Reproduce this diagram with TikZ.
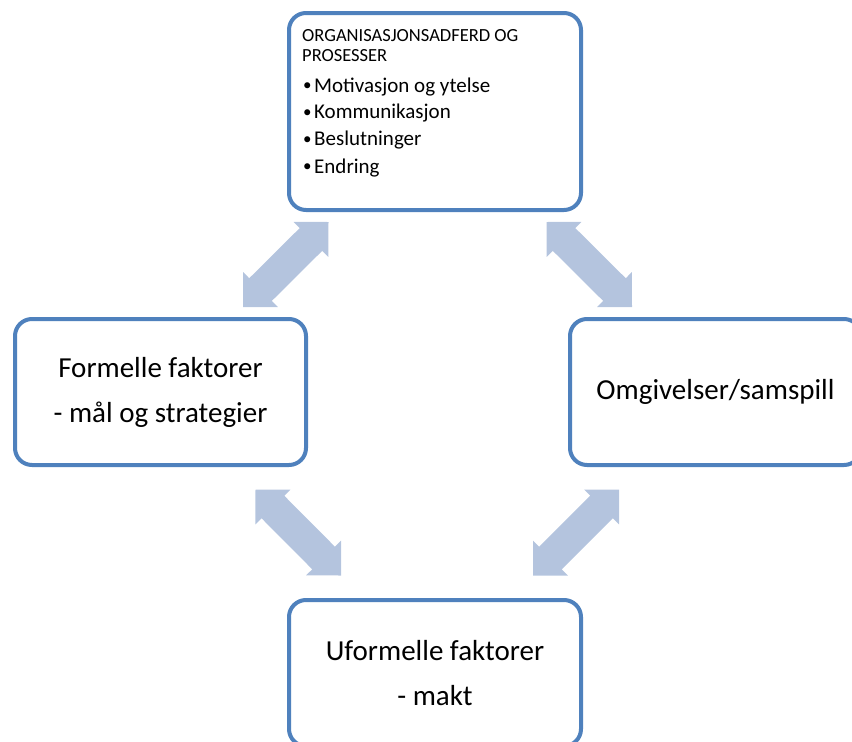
\documentclass[tikz,border=0pt]{standalone}
\usepackage{fontspec}
\setmainfont{Carlito}
\usetikzlibrary{calc}

\definecolor{boxblue}{RGB}{79,129,189}
\definecolor{arrowblue}{RGB}{180,196,222}

\newcommand{\itembullet}{\makebox[11pt][l]{\raisebox{1.4pt}{\fontsize{17}{17}\selectfont •}}}

% Fat double arrow from one named point to another
\newcommand{\fatarrow}[2]{%
	\fill [arrowblue] (#1) -- ($(#1)!34.93pt!45:(#2)$) -- ($(#1)!29.43pt!32.93:(#2)$) -- ($(#2)!29.43pt!-32.93:(#1)$) -- ($(#2)!34.93pt!-45:(#1)$) -- (#2) -- ($(#2)!34.93pt!45:(#1)$) -- ($(#2)!29.43pt!32.93:(#1)$) -- ($(#1)!29.43pt!-32.93:(#2)$) -- ($(#1)!34.93pt!-45:(#2)$) -- cycle;}

\tikzset{
	box/.style = {draw = boxblue, line width = 4pt, rounded corners = 17pt, fill = white, outer sep = 0pt, inner sep = 0pt, align = center, font = \fontsize{29}{45}\selectfont},
	head/.style = {anchor = base west, inner sep = 0pt, font = \fontsize{18.5}{20}\selectfont},
	item/.style = {anchor = base west, inner sep = 0pt, font = \fontsize{21}{27}\selectfont}
}

\begin{document}
\begin{tikzpicture}[x = 1pt, y = -1pt]

	\useasboundingbox (0, 0) rectangle (852, 742);
	\clip (0, 0) rectangle (852, 742);

	% Boxes
	
	\node [box, minimum width = 292pt, minimum height = 197pt] (org) at (435, 111.5) {};
	\node [box, minimum width = 291pt, minimum height = 146pt] (formelle) at (160.5, 392) {Formelle faktorer\\- mål og strategier};
	\node [box, minimum width = 291pt, minimum height = 146pt] (omgiv) at (715.5, 392) {Omgivelser/samspill};
	\node [box, minimum width = 292pt, minimum height = 146pt] (uformelle) at (435, 673) {Uformelle faktorer\\- makt};
	
	% Text in the top box
	
	\node [head] (orghead) at (302, 41) {ORGANISASJONSADFERD OG};
	\node [head] (orghead2) at (302, 61) {PROSESSER};
	\node [item] (motivasjon) at (303, 92) {\itembullet Motivasjon og ytelse};
	\node [item] (kommunikasjon) at (303, 118.5) {\itembullet Kommunikasjon};
	\node [item] (beslutninger) at (303, 145.7) {\itembullet Beslutninger};
	\node [item] (endring) at (303, 173) {\itembullet Endring};
	
	% Arrow ends near the box corners
	
	\coordinate (formelleup) at ($(formelle.north east) + (-63, -12)$);
	\coordinate (orgleft) at ($(org.south west) + (39.5, 12)$);
	\coordinate (orgright) at ($(org.south east) + (-34.5, 12)$);
	\coordinate (omgivup) at ($(omgiv.north west) + (62, -12)$);
	\coordinate (formelledown) at ($(formelle.south east) + (-50.5, 24.5)$);
	\coordinate (uformelleleft) at ($(uformelle.north west) + (52, -24.5)$);
	\coordinate (omgivdown) at ($(omgiv.south west) + (49, 24.5)$);
	\coordinate (uformelleright) at ($(uformelle.north east) + (-48, -24.5)$);
	
	% Double arrows between the boxes
	
	\fatarrow{formelleup}{orgleft}
	\fatarrow{orgright}{omgivup}
	\fatarrow{formelledown}{uformelleleft}
	\fatarrow{omgivdown}{uformelleright}

\end{tikzpicture}
\end{document}
